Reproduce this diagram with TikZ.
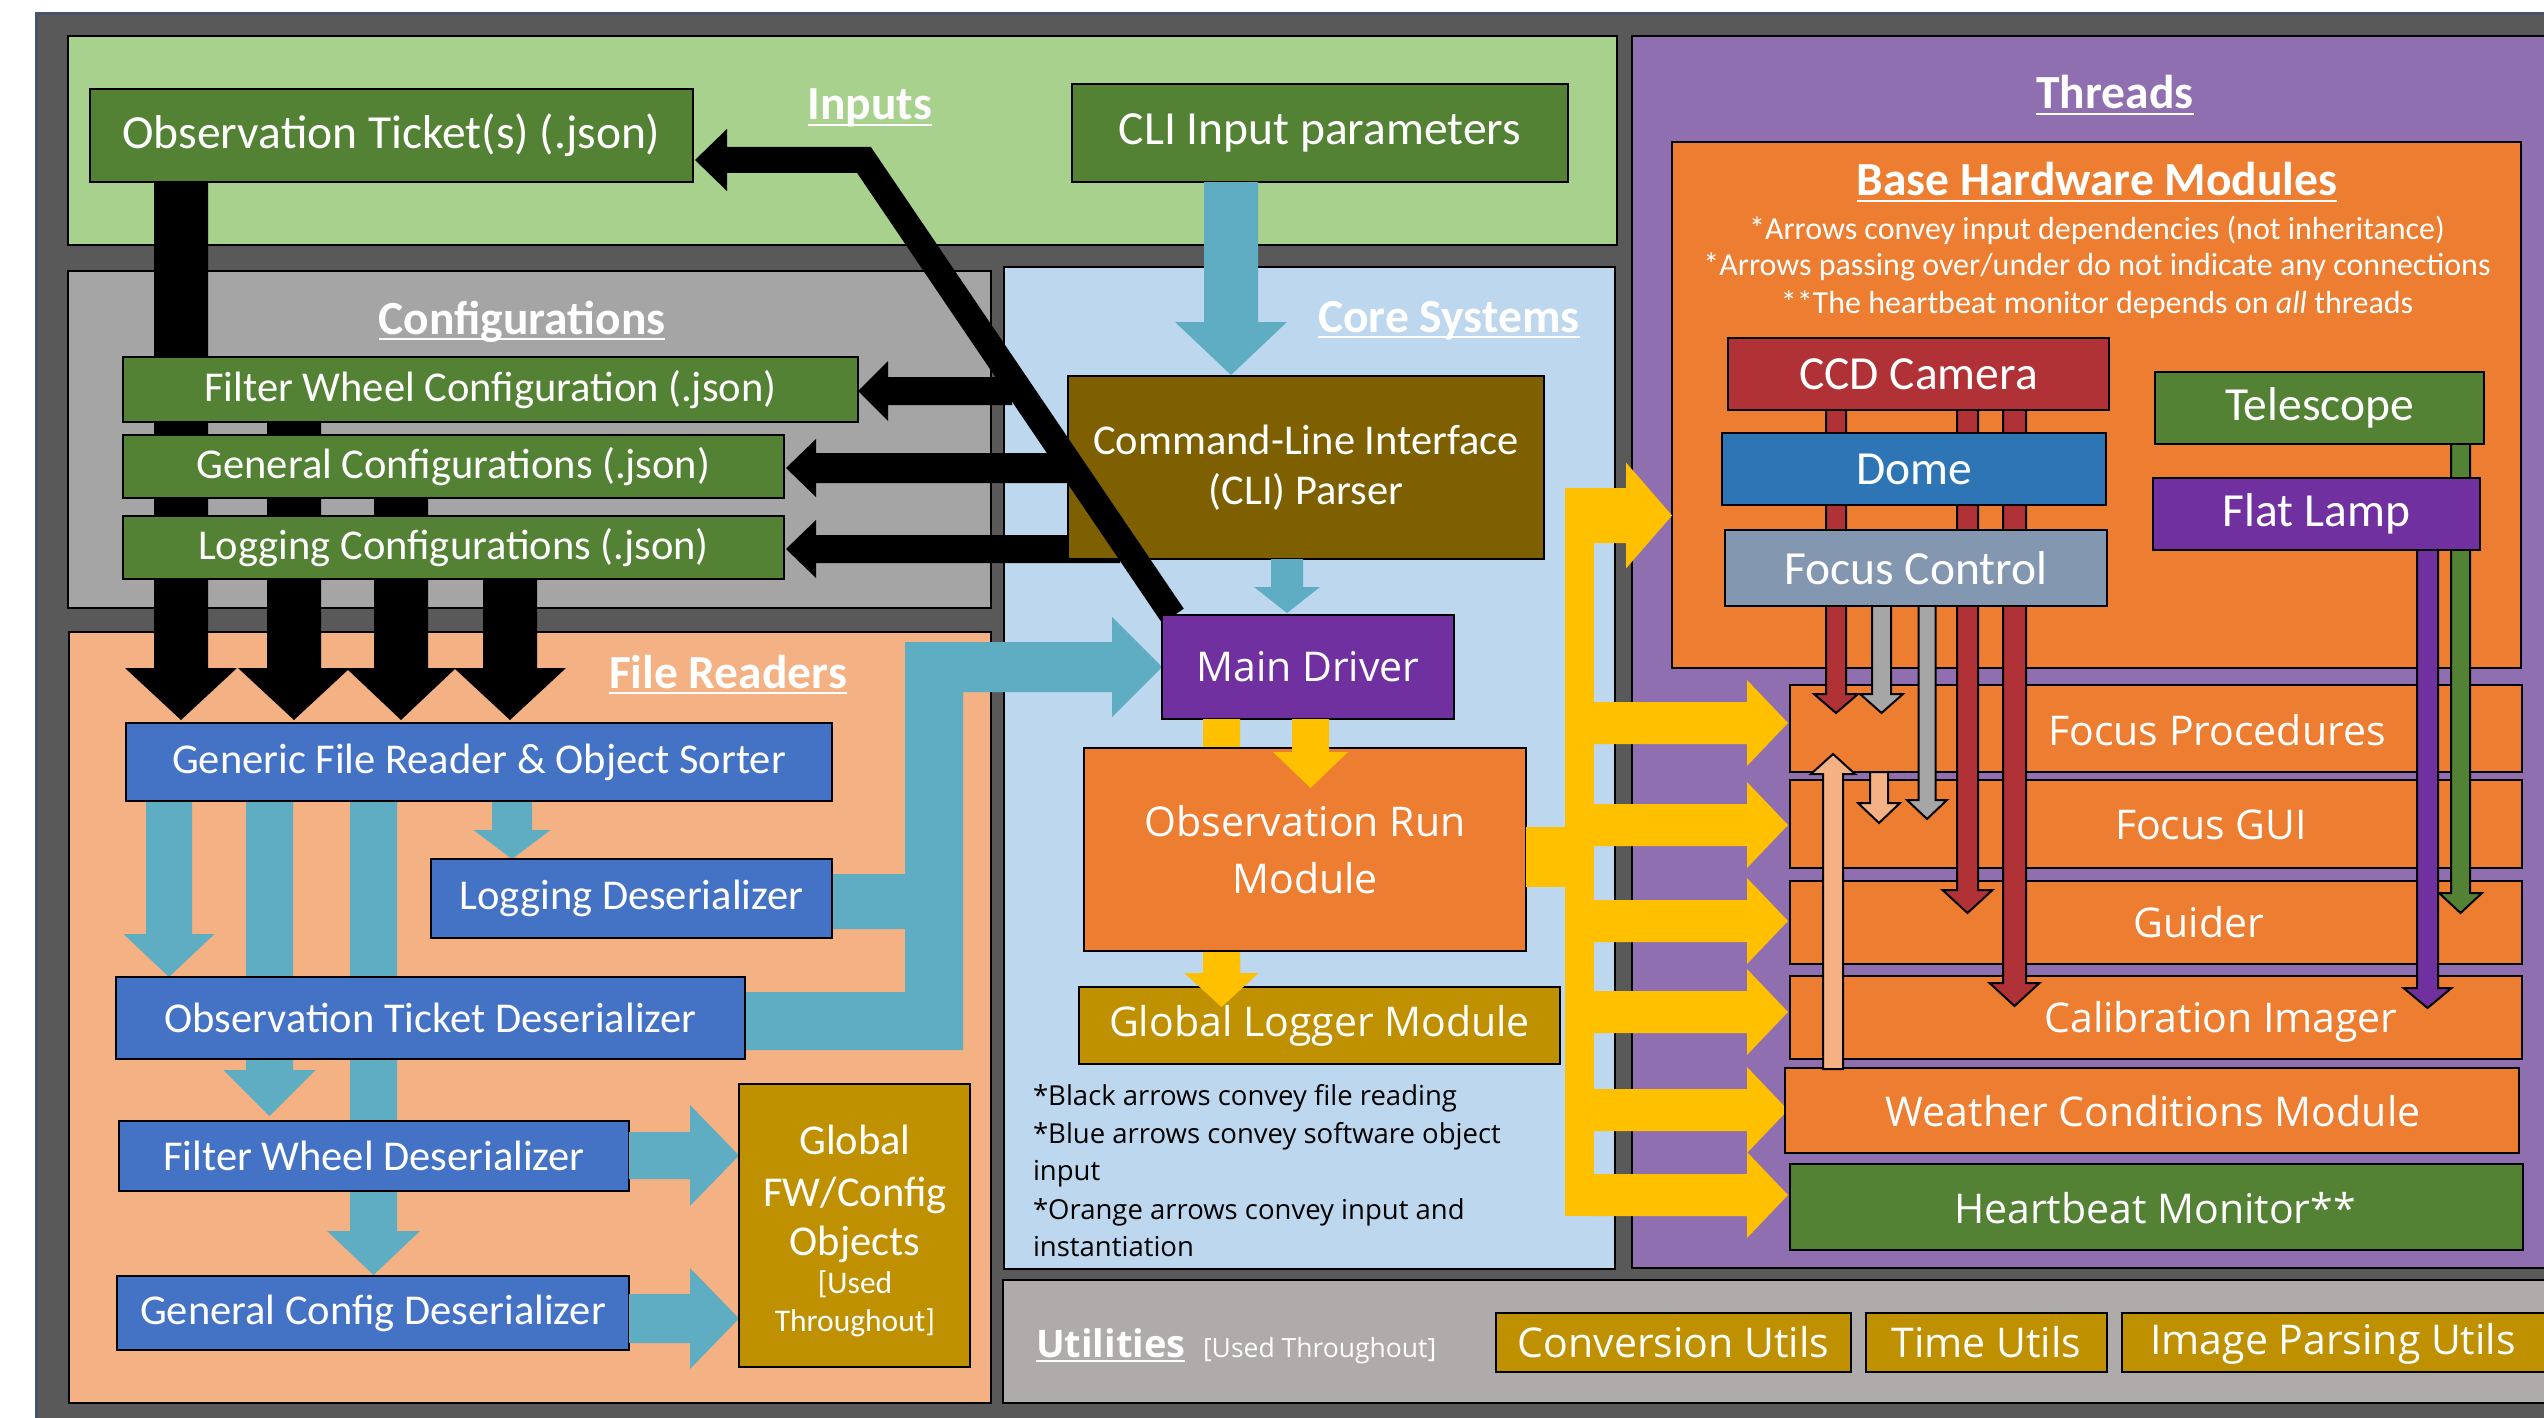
\documentclass[tikz,border=0pt]{standalone}
\usepackage{fontspec}
\setmainfont{Carlito}
\newfontfamily\seg{Open Sans}
\definecolor{bgdark}{HTML}{595959}
\definecolor{navy}{HTML}{44546A}
\definecolor{inG}{HTML}{A9D18E}
\definecolor{cfgG}{HTML}{A5A5A5}
\definecolor{fileP}{HTML}{F4B183}
\definecolor{coreB}{HTML}{BDD7EE}
\definecolor{thrP}{HTML}{8F6FB0}
\definecolor{bhwO}{HTML}{ED7D31}
\definecolor{utilG}{HTML}{AFABAB}
\definecolor{dGreen}{HTML}{548235}
\definecolor{boxBlue}{HTML}{4472C4}
\definecolor{teal}{HTML}{5FADC2}
\definecolor{brownP}{HTML}{7F6000}
\definecolor{mdPurple}{HTML}{7030A0}
\definecolor{gold}{HTML}{BF9000}
\definecolor{yel}{HTML}{FFC000}
\definecolor{ccdRed}{HTML}{B03236}
\definecolor{domeB}{HTML}{2E75B6}
\definecolor{focC}{HTML}{8497B0}
\definecolor{grayA}{HTML}{A6A6A6}
\newcommand\ulh[1]{\setbox0=\hbox{#1}\rlap{\rule[-0.13em]{\wd0}{0.055em}}\box0}
% vertical block arrow: style, cx, ystart, yheadbase, ytip, shaft half, head half
\newcommand\BV[7]{\path[#1] ({#2-#6},#3) -- ({#2+#6},#3) -- ({#2+#6},#4) -- ({#2+#7},#4) -- (#2,#5) -- ({#2-#7},#4) -- ({#2-#6},#4) -- cycle;}
% horizontal block arrow: style, cy, xstart, xheadbase, xtip, shaft half, head half
\newcommand\BH[7]{\path[#1] (#3,{#2-#6}) -- (#4,{#2-#6}) -- (#4,{#2-#7}) -- (#5,#2) -- (#4,{#2+#7}) -- (#4,{#2+#6}) -- (#3,{#2+#6}) -- cycle;}
% box: [style]{name}{fill}{x0}{y0}{x1}{y1}{text}
\newcommand\bxn[8][]{\node[bx,fill=#3,minimum width={(#6)-(#4)},minimum height={(#7)-(#5)},#1] (#2) at ({(#4+#6)/2},{(#5+#7)/2}) {#8};}
\tikzset{
 panel/.style={draw=black,line width=2},
 bx/.style={draw=black,line width=2,inner sep=0pt,outer sep=0pt,text=white,align=center},
 tx/.style={inner sep=0pt,outer sep=0pt,text=white},
 fA/.style={font=\fontsize{47.5}{57}\selectfont},
 fB/.style={font=\fontsize{42.5}{50}\selectfont},
 fS/.style={font=\seg\fontsize{41}{57}\selectfont},
 fH/.style={font=\bfseries\fontsize{47.5}{57}\selectfont},
 fN/.style={font=\fontsize{32}{37}\selectfont},
 fC/.style={font=\seg\fontsize{27.5}{38}\selectfont},
 hw/.style={draw=black,line width=2},
}
\begin{document}
\begin{tikzpicture}[x=1pt,y=-1pt]
\useasboundingbox (0,0) rectangle (2544,1418);
\clip (0,0) rectangle (2544,1418);
\fill[white] (0,0) rectangle (2544,1418);
\path[fill=bgdark,draw=navy,line width=3] (36,14) rectangle (2600,1460);
% panels
\path[panel,fill=inG] (68,36) rectangle (1617,245);
\path[panel,fill=cfgG] (68,271) rectangle (991,608);
\path[panel,fill=fileP] (69,632) rectangle (991,1403);
\path[panel,fill=coreB] (1004,267) rectangle (1615,1269);
\path[panel,fill=thrP] (1632,36) rectangle (2600,1268);
\path[panel,fill=utilG] (1003,1280) rectangle (2600,1403);
\path[panel,fill=bhwO] (1672,142) rectangle (2521,668);
% headings
\node[tx,fH,anchor=base] (hIn) at (870,120) {\ulh{Inputs}};
\node[tx,fH,anchor=base] (hCfg) at (522,334) {\ulh{Configurations}};
\node[tx,fH,anchor=base] (hFR) at (728,688) {\ulh{File Readers}};
\node[tx,fH,anchor=base] (hCore) at (1449,332) {\ulh{Core Systems}};
\node[tx,fH,anchor=base] (hThr) at (2115,109) {\ulh{Threads}};
\node[tx,fH,anchor=base] (hBHW) at (2097,196) {\ulh{Base Hardware Modules}};
\node[tx,anchor=base west,font=\seg\bfseries\fontsize{38}{46}\selectfont] (hUtil) at (1036,1357) {\ulh{Utilities}};
\node[tx,anchor=base west,font=\seg\fontsize{26.5}{30}\selectfont] (uUsed) at (1203,1357) {[Used Throughout]};
% black file-reading bars
\BV{fill=black}{181}{180}{668}{720}{27}{56}
\BV{fill=black}{294}{400}{668}{720}{27}{56}
\BV{fill=black}{401}{480}{668}{720}{27}{55}
\BV{fill=black}{510}{560}{668}{720}{27}{56}
% input boxes and config boxes
\bxn[fA]{obsT}{dGreen}{90}{89}{693}{182}{Observation Ticket(s) (.json)}
\bxn[fA]{cliIn}{dGreen}{1072}{84}{1568}{182}{CLI Input parameters}
\bxn[fB]{fwCfg}{dGreen}{123}{357}{858}{422}{Filter Wheel Configuration (.json)}
\bxn[fB]{genCfg}{dGreen}{123}{435}{784}{498}{General Configurations (.json)}
\bxn[fB]{logCfg}{dGreen}{123}{516}{784}{579}{Logging Configurations (.json)}
% config reading arrows
\BH{fill=black}{391}{1012}{888}{858}{14}{30}
\BH{fill=black}{468}{1070}{816}{786}{15}{29}
\BH{fill=black}{549}{1120}{816}{786}{14}{29}
% CLI input -> parser
\BV{fill=teal}{1231}{182}{322}{375}{27}{56}
\bxn[fB]{cliP}{brownP}{1068}{376}{1544}{559}{Command-Line Interface\\(CLI) Parser}
% diagonal obs ticket reading
\draw[line width=26,line join=miter] (725,160) -- (864,160) -- (1173,616);
\path[fill=black] (727,129) -- (695,160) -- (727,191) -- cycle;
% parser -> main
\BV{fill=teal}{1287}{559}{587}{613}{16}{33}
% L-shaped teal arrow from deserializers to main driver
\path[fill=teal] (745,992) -- (905,992) -- (905,929) -- (832,929) -- (832,874) -- (905,874) -- (905,642) -- (1112,642) -- (1112,617) -- (1162,667) -- (1112,717) -- (1112,692) -- (963,692) -- (963,1050) -- (745,1050) -- cycle;
\bxn[fS]{mainD}{mdPurple}{1162}{615}{1454}{719}{Main Driver}
% yellow main -> logger (behind obs run)
\BV{fill=yel}{1221.5}{719}{973}{1007}{18.5}{37}
\bxn[fS]{gLog}{gold}{1079}{987}{1560}{1064}{Global Logger Module}
\BV{fill=yel}{1221.5}{960}{973}{1007}{18.5}{37}
\bxn[fS]{obsRun}{bhwO}{1084}{748}{1526}{951}{Observation Run\\Module}
\BV{fill=yel}{1310.5}{719}{752}{788}{18.5}{37.5}
% yellow trunk and branches
\fill[yel] (1526,827) rectangle (1594,887);
\fill[yel] (1565,488) rectangle (1594,1216);
\BH{fill=yel}{515.5}{1565}{1626}{1672}{27.5}{53}
\BH{fill=yel}{723}{1590}{1747}{1788}{21}{43}
\BH{fill=yel}{825}{1590}{1747}{1788}{21}{43}
\BH{fill=yel}{921}{1590}{1747}{1788}{21}{43}
\BH{fill=yel}{1012}{1590}{1747}{1788}{21}{43}
\BH{fill=yel}{1110}{1590}{1747}{1788}{21}{43}
\BH{fill=yel}{1195}{1590}{1747}{1788}{21}{43}
% core notes
\node[tx,fC,text=black,anchor=base west] (n1) at (1033,1105) {*Black arrows convey file reading};
\node[tx,fC,text=black,anchor=base west] (n2) at (1033,1143) {*Blue arrows convey software object};
\node[tx,fC,text=black,anchor=base west] (n3) at (1033,1180) {input};
\node[tx,fC,text=black,anchor=base west] (n4) at (1033,1219) {*Orange arrows convey input and};
\node[tx,fC,text=black,anchor=base west] (n5) at (1033,1256) {instantiation};
% file readers arrows
\BV{fill=teal}{373.5}{800}{1231}{1275}{23.5}{46.5}
\BV{fill=teal}{269.5}{800}{1070}{1116}{23.5}{46}
\BV{fill=teal}{169}{800}{934}{977}{23}{45.5}
\BV{fill=teal}{512}{800}{830}{859}{20}{38.5}
\bxn[fB]{gen}{boxBlue}{126}{723}{832}{801}{Generic File Reader \& Object Sorter}
\bxn[fB]{logD}{boxBlue}{431}{859}{832}{938}{Logging Deserializer}
\bxn[fB]{obsD}{boxBlue}{116}{977}{745}{1059}{Observation Ticket Deserializer}
\bxn[fB]{fwD}{boxBlue}{119}{1121}{629}{1191}{Filter Wheel Deserializer}
\bxn[fB]{gcD}{boxBlue}{117}{1276}{629}{1350}{General Config Deserializer}
\BH{fill=teal}{1155.5}{629}{690}{739}{23.5}{50.5}
\BH{fill=teal}{1318.5}{629}{690}{739}{24.5}{50.5}
\bxn{glob}{gold}{739}{1084}{970}{1367}{}
\node[tx,fB,anchor=base] (g1) at (855,1154) {Global};
\node[tx,fB,anchor=base] (g2) at (855,1206) {FW/Config};
\node[tx,fB,anchor=base] (g3) at (855,1255) {Objects};
\node[tx,font=\fontsize{31.5}{38}\selectfont,anchor=base] (g4) at (855,1293) {[Used};
\node[tx,font=\fontsize{31.5}{38}\selectfont,anchor=base] (g5) at (855,1331) {Throughout]};
% base hardware notes
\node[tx,fN,anchor=base] (b1) at (2097,239) {*Arrows convey input dependencies (not inheritance)};
\node[tx,fN,anchor=base] (b2) at (2097,275) {*Arrows passing over/under do not indicate any connections};
\node[tx,fN,anchor=base] (b3) at (2097,313) {**The heartbeat monitor depends on \textit{all} threads};
% thread boxes
\bxn{focProc}{bhwO}{1790}{685}{2522}{772}{}
\bxn{focGUI}{bhwO}{1790}{780}{2522}{868}{}
\bxn{guider}{bhwO}{1790}{881}{2522}{964}{}
\bxn{calib}{bhwO}{1790}{976}{2522}{1059}{}
\bxn{weather}{bhwO}{1785}{1068}{2519}{1153}{}
\bxn{heart}{dGreen}{1790}{1164}{2523}{1250}{}
\node[tx,fS,anchor=base] (tFP) at (2217,745) {Focus Procedures};
\node[tx,fS,anchor=base] (tFG) at (2211,839) {Focus GUI};
\node[tx,fS,anchor=base] (tGu) at (2199,937) {Guider};
\node[tx,fS,anchor=base] (tCI) at (2221,1032) {Calibration Imager};
\node[tx,fS,anchor=base] (tWe) at (2153,1126) {Weather Conditions Module};
\node[tx,fS,anchor=base] (tHB) at (2155,1223) {Heartbeat Monitor**};
% hardware dependency arrows
\BV{hw,fill=ccdRed}{1836}{400}{694}{713}{10}{22}
\BV{hw,fill=grayA}{1881.5}{600}{694}{713}{9.5}{21.5}
\BV{hw,fill=grayA}{1927}{600}{800}{819}{8.5}{20}
\BV{hw,fill=ccdRed}{1967.5}{400}{890}{913}{10.5}{25}
\BV{hw,fill=ccdRed}{2014.5}{400}{983}{1006}{11.5}{25}
\BV{hw,fill=fileP}{1833}{1069}{774}{754}{10}{22}
\BV{hw,fill=fileP}{1879}{772}{803}{823}{9}{21}
\BV{hw,fill=dGreen}{2460.5}{440}{893}{913}{9.5}{21.5}
\BV{hw,fill=mdPurple}{2427.5}{545}{988}{1008}{10.5}{24}
% hardware boxes
\bxn[fA]{ccd}{ccdRed}{1728}{338}{2109}{410}{CCD Camera}
\bxn[fA]{dome}{domeB}{1722}{433}{2106}{505}{Dome}
\bxn[fA]{focCtl}{focC}{1725}{530}{2107}{606}{Focus Control}
\bxn[fA]{tele}{dGreen}{2155}{372}{2484}{444}{Telescope}
\bxn[fA]{flat}{mdPurple}{2153}{478}{2480}{550}{Flat Lamp}
% utilities
\bxn[fS]{conv}{gold}{1496}{1313}{1851}{1372}{Conversion Utils}
\bxn[fS]{timeU}{gold}{1866}{1313}{2107}{1372}{Time Utils}
\bxn{imgP}{gold}{2122}{1313}{2600}{1372}{}
\node[tx,fS] (tIP) at (2333,1344) {Image Parsing Utils};
\end{tikzpicture}
\end{document}
